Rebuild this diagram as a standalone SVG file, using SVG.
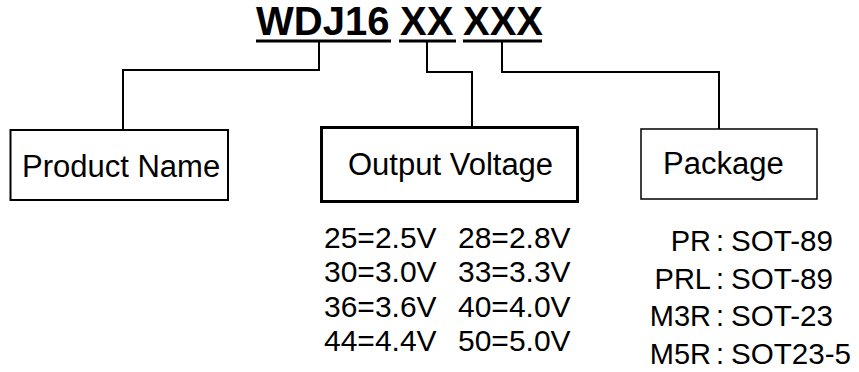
<svg xmlns="http://www.w3.org/2000/svg" width="859" height="372" viewBox="0 0 859 372">
<style>
  .t { font-family: "Liberation Sans", Arial, sans-serif; fill: #000; }
  .title { font-size: 40px; font-weight: bold; }
  .lbl { font-size: 31px; }
  .val { font-size: 30px; }
  .pkg { font-size: 29px; }
  .pkgv { font-size: 29.6px; }
  .box { fill: #fff; stroke: #000; }
  .conn { fill: none; stroke: #000; stroke-width: 2; }
  .ul { stroke: #000; stroke-width: 3; }
</style>
<rect width="859" height="372" fill="#fff"/>
<g id="title">
  <text class="t title" x="256" y="35">WDJ16</text>
  <text class="t title" x="400" y="35">XX</text>
  <text class="t title" x="463" y="35">XXX</text>
  <line class="ul" x1="256" y1="41" x2="391" y2="41"/>
  <line class="ul" x1="399" y1="41" x2="456" y2="41"/>
  <line class="ul" x1="463" y1="41" x2="542" y2="41"/>
</g>
<g id="connectors">
  <polyline class="conn" points="319,42 319,70 123,70 123,130"/>
  <polyline class="conn" points="427,42 427,72 472,72 472,127"/>
  <polyline class="conn" points="502,42 502,72 719,72 719,129"/>
</g>
<g id="product-name">
  <rect class="box" x="10.5" y="130" width="217.5" height="70" stroke-width="2"/>
  <text class="t lbl" x="22" y="177">Product Name</text>
</g>
<g id="output-voltage">
  <rect class="box" x="321.5" y="127.5" width="256" height="74" stroke-width="3"/>
  <text class="t lbl" x="348" y="175">Output Voltage</text>
</g>
<g id="package">
  <rect class="box" x="641" y="129" width="176" height="70" stroke-width="1.5"/>
  <text class="t lbl" x="663" y="174">Package</text>
</g>
<g id="voltage-list">
  <text class="t val" x="324" y="248">25=2.5V</text>
  <text class="t val" x="458" y="248">28=2.8V</text>
  <text class="t val" x="324" y="282">30=3.0V</text>
  <text class="t val" x="458" y="282">33=3.3V</text>
  <text class="t val" x="324" y="317">36=3.6V</text>
  <text class="t val" x="458" y="317">40=4.0V</text>
  <text class="t val" x="324" y="351">44=4.4V</text>
  <text class="t val" x="458" y="351">50=5.0V</text>
</g>
<g id="package-list">
  <text class="t pkg" x="711" y="251" text-anchor="end">PR</text>
  <text class="t pkg" x="716" y="251">:</text>
  <text class="t pkgv" x="731" y="251">SOT-89</text>
  <text class="t pkg" x="711" y="289" text-anchor="end">PRL</text>
  <text class="t pkg" x="716" y="289">:</text>
  <text class="t pkgv" x="731" y="289">SOT-89</text>
  <text class="t pkg" x="711" y="326" text-anchor="end">M3R</text>
  <text class="t pkg" x="716" y="326">:</text>
  <text class="t pkgv" x="731" y="326">SOT-23</text>
  <text class="t pkg" x="711" y="364" text-anchor="end">M5R</text>
  <text class="t pkg" x="716" y="364">:</text>
  <text class="t pkgv" x="731" y="364">SOT23-5</text>
</g>
</svg>
